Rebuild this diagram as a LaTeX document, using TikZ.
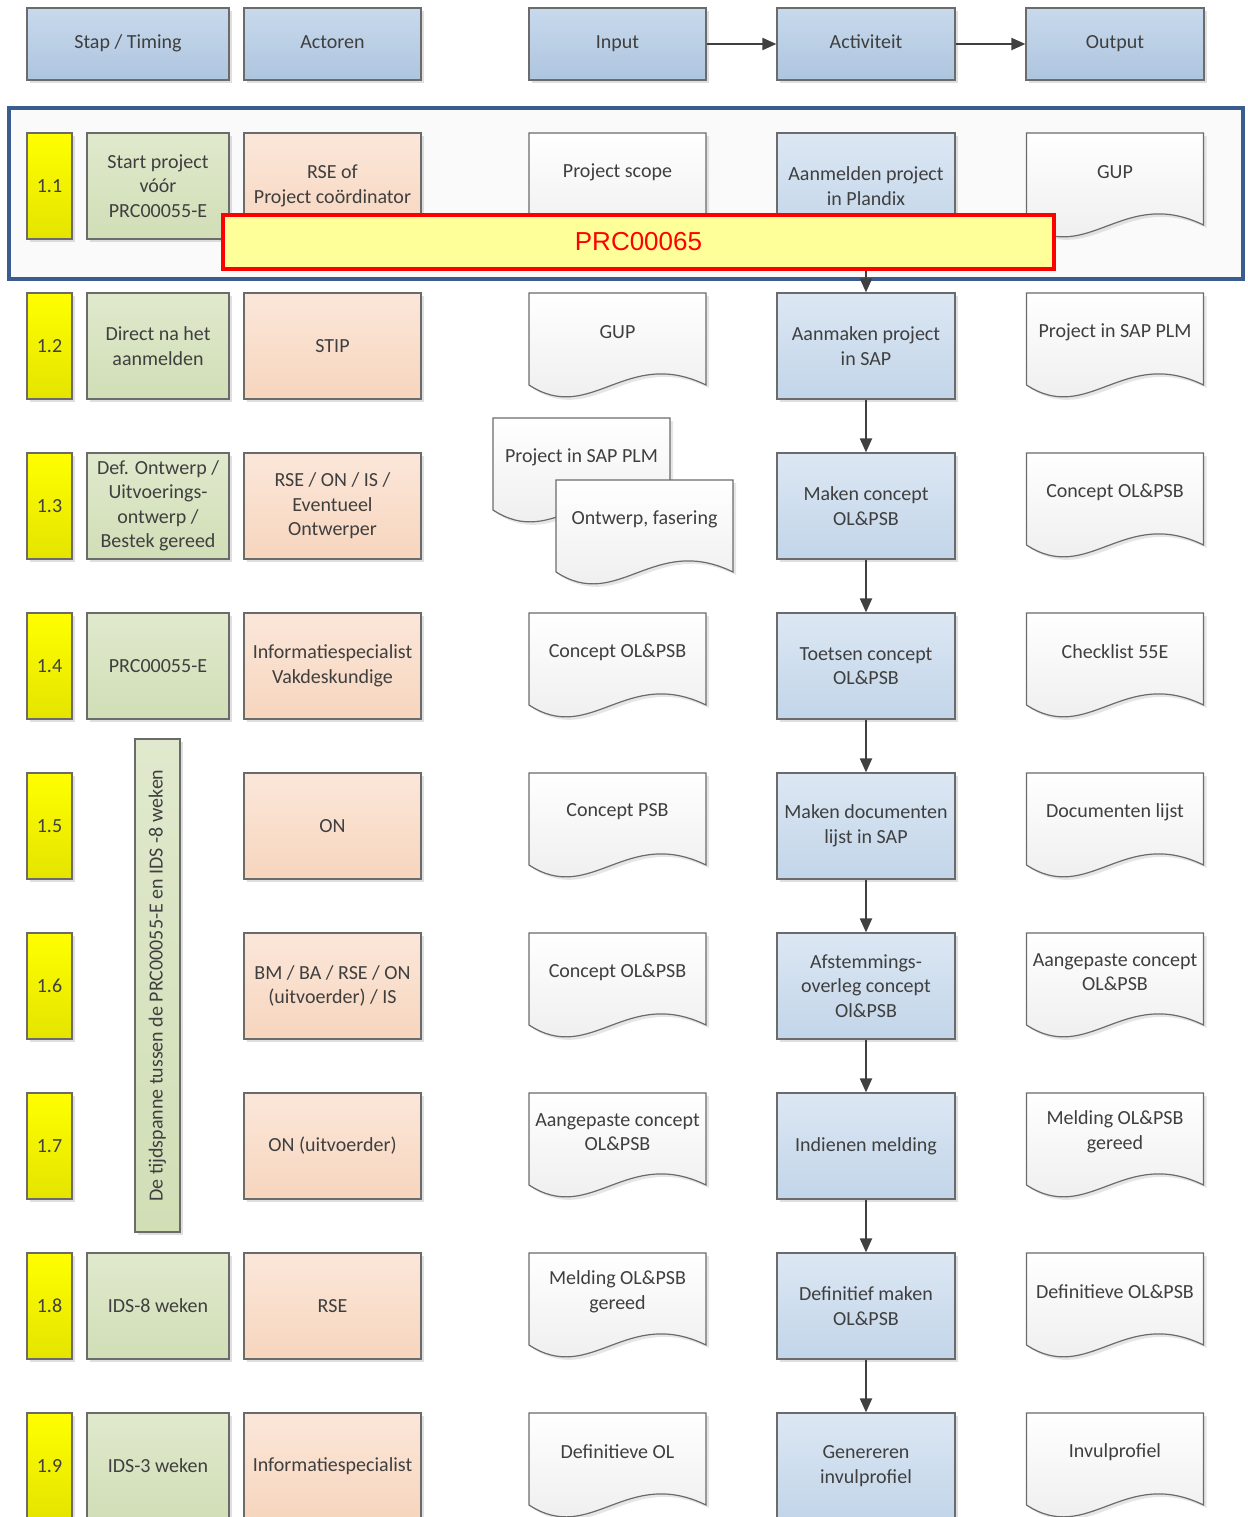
\documentclass[tikz,border=0pt]{standalone}
\usepackage{fontspec}
\setmainfont{Carlito}
\newfontfamily\prcfont{Liberation Sans}
\usepackage{tikz}
\usetikzlibrary{shadows, arrows.meta}

\definecolor{txt}{HTML}{3F3F3F}
\definecolor{rim}{HTML}{6B6B6B}
\definecolor{headtop}{HTML}{C8D9EC}
\definecolor{headbot}{HTML}{AEC5DF}
\definecolor{acttop}{HTML}{DCE7F3}
\definecolor{actbot}{HTML}{C2D5E9}
\definecolor{yeltop}{HTML}{FFFF00}
\definecolor{yelbot}{HTML}{E4E400}
\definecolor{greentop}{HTML}{E0E9CD}
\definecolor{greenbot}{HTML}{D1DEB6}
\definecolor{peachtop}{HTML}{FBE7DA}
\definecolor{peachbot}{HTML}{F7D5BD}
\definecolor{docbot}{HTML}{EBEBEB}
\definecolor{frame}{HTML}{3B5C8F}
\definecolor{prcfill}{HTML}{FFFF99}
\definecolor{arrowgray}{HTML}{404040}

\tikzset{
  box/.style={draw=rim, line width=0.6pt, minimum height=53pt, align=center, text=txt,
    inner sep=1pt, font=\fontsize{10}{12.25}\selectfont,
    drop shadow={shadow xshift=1.5pt, shadow yshift=-1.5pt, opacity=0.25}},
  head/.style={box, minimum height=36pt, minimum width=88.5pt, text height=7pt, text depth=2.5pt,
    top color=headtop, bottom color=headbot},
  stepbox/.style={box, minimum width=22.5pt, top color=yeltop, bottom color=yelbot},
  timebox/.style={box, minimum width=71pt, top color=greentop, bottom color=greenbot},
  actorbox/.style={box, minimum width=88.5pt, top color=peachtop, bottom color=peachbot},
  actbox/.style={box, minimum width=89pt, top color=acttop, bottom color=actbot},
  doctext/.style={align=center, text=txt, inner sep=0pt, font=\fontsize{10}{12.25}\selectfont},
  flow/.style={draw=arrowgray, line width=1pt, -{Triangle[length=7pt, width=6pt]}},
  pics/docpage/.style={code={
    \draw[draw=rim, line width=0.6pt, top color=white, bottom color=docbot,
      drop shadow={shadow xshift=1.5pt, shadow yshift=-1.5pt, opacity=0.2}]
      (-88.5,-38) -- (88.5,-38) -- (88.5,54)
      .. controls (8.5,15) and (-26.5,94.5) .. (-88.5,54) -- cycle;
  }}
}

\begin{document}
\begin{tikzpicture}[x=0.5pt, y=-0.5pt]
        \useasboundingbox (0,0) rectangle (1248,1517);

        % Header row
        \node[head, minimum width=101pt] (hstap) at (128,44) {Stap / Timing};
        \node[head] (hactor) at (332.5,44) {Actoren};
        \node[head] (hinput) at (617.5,44) {Input};
        \node[head, minimum width=89pt] (hact) at (866,44) {Activiteit};
        \node[head, minimum width=89pt] (houtput) at (1115,44) {Output};
        \draw[flow] (hinput) -- (hact);
        \draw[flow] (hact) -- (houtput);

        % Frame round step 1.1
        \draw[frame, line width=1.6pt, fill=black!2] (9,108) rectangle (1243,279);

        % Step numbers
        \foreach \i in {1,...,9}
            \node[stepbox] (step\i) at (49.5,{186+160*(\i-1)}) {1.\i};

        % 1.1
        \node[timebox] (time1) at (158,186) {Start project\\vóór\\PRC00055-E};
        \node[actorbox] (actor1) at (332.5,186) {RSE of\\Project coördinator};
        \pic at (617.5,171) {docpage};
        \node[doctext] (in1) at (617.5,172) {Project scope};
        \node[actbox] (act1) at (866,186) {Aanmelden project\\in Plandix};
        \pic at (1115,171) {docpage};
        \node[doctext] (out1) at (1115,172) {GUP};

        % 1.2
        \node[timebox] (time2) at (158,346) {Direct na het\\aanmelden};
        \node[actorbox] (actor2) at (332.5,346) {STIP};
        \pic at (617.5,331) {docpage};
        \node[doctext] (in2) at (617.5,332) {GUP};
        \node[actbox] (act2) at (866,346) {Aanmaken project\\in SAP};
        \pic at (1115,331) {docpage};
        \node[doctext] (out2) at (1115,332) {Project in SAP PLM};

        % 1.3
        \node[timebox] (time3) at (158,506) {Def. Ontwerp /\\Uitvoerings-\\ontwerp /\\Bestek gereed};
        \node[actorbox] (actor3) at (332.5,506) {RSE / ON / IS /\\Eventueel\\Ontwerper};
        \pic at (581.5,456) {docpage};
        \node[doctext] (in3a) at (581.5,457) {Project in SAP PLM};
        \pic at (644.5,518) {docpage};
        \node[doctext] (in3b) at (644.5,519) {Ontwerp, fasering};
        \node[actbox] (act3) at (866,506) {Maken concept\\OL\&PSB};
        \pic at (1115,491) {docpage};
        \node[doctext] (out3) at (1115,492) {Concept OL\&PSB};

        % 1.4
        \node[timebox] (time4) at (158,666) {PRC00055-E};
        \node[actorbox] (actor4) at (332.5,666) {Informatiespecialist\\Vakdeskundige};
        \pic at (617.5,651) {docpage};
        \node[doctext] (in4) at (617.5,652) {Concept OL\&PSB};
        \node[actbox] (act4) at (866,666) {Toetsen concept\\OL\&PSB};
        \pic at (1115,651) {docpage};
        \node[doctext] (out4) at (1115,652) {Checklist 55E};

        % Span 1.5 - 1.7
        \node[timebox, minimum width=246.5pt, minimum height=22.5pt, rotate=90] (span) at (157.5,985.5)
            {De tijdspanne tussen de PRC00055-E en IDS -8 weken};

        % 1.5
        \node[actorbox] (actor5) at (332.5,826) {ON};
        \pic at (617.5,811) {docpage};
        \node[doctext] (in5) at (617.5,812) {Concept PSB};
        \node[actbox] (act5) at (866,826) {Maken documenten\\lijst in SAP};
        \pic at (1115,811) {docpage};
        \node[doctext] (out5) at (1115,812) {Documenten lijst};

        % 1.6
        \node[actorbox] (actor6) at (332.5,986) {BM / BA / RSE / ON\\(uitvoerder) / IS};
        \pic at (617.5,971) {docpage};
        \node[doctext] (in6) at (617.5,972) {Concept OL\&PSB};
        \node[actbox] (act6) at (866,986) {Afstemmings-\\overleg concept\\Ol\&PSB};
        \pic at (1115,971) {docpage};
        \node[doctext] (out6) at (1115,972) {Aangepaste concept\\OL\&PSB};

        % 1.7
        \node[actorbox] (actor7) at (332.5,1146) {ON (uitvoerder)};
        \pic at (617.5,1131) {docpage};
        \node[doctext] (in7) at (617.5,1132) {Aangepaste concept\\OL\&PSB};
        \node[actbox] (act7) at (866,1146) {Indienen melding};
        \pic at (1115,1131) {docpage};
        \node[doctext] (out7) at (1115,1132) {Melding OL\&PSB\\gereed};

        % 1.8
        \node[timebox] (time8) at (158,1306) {IDS-8 weken};
        \node[actorbox] (actor8) at (332.5,1306) {RSE};
        \pic at (617.5,1291) {docpage};
        \node[doctext] (in8) at (617.5,1292) {Melding OL\&PSB\\gereed};
        \node[actbox] (act8) at (866,1306) {Definitief maken\\OL\&PSB};
        \pic at (1115,1291) {docpage};
        \node[doctext] (out8) at (1115,1292) {Definitieve OL\&PSB};

        % 1.9
        \node[timebox] (time9) at (158,1466) {IDS-3 weken};
        \node[actorbox] (actor9) at (332.5,1466) {Informatiespecialist};
        \pic at (617.5,1451) {docpage};
        \node[doctext] (in9) at (617.5,1452) {Definitieve OL};
        \node[actbox] (act9) at (866,1466) {Genereren\\invulprofiel};
        \pic at (1115,1451) {docpage};
        \node[doctext] (out9) at (1115,1452) {Invulprofiel};

        % Flow between the activities
        \foreach \i [count=\j from 2] in {1,...,8}
            \draw[flow] (act\i) -- (act\j);

        % PRC00065 banner
        \node[draw=red, line width=1.6pt, fill=prcfill, minimum width=415.5pt, minimum height=27pt,
            text=red, font=\prcfont\fontsize{13}{15}\selectfont] (prc) at (638.5,242) {PRC00065};
    \end{tikzpicture}
\end{document}
